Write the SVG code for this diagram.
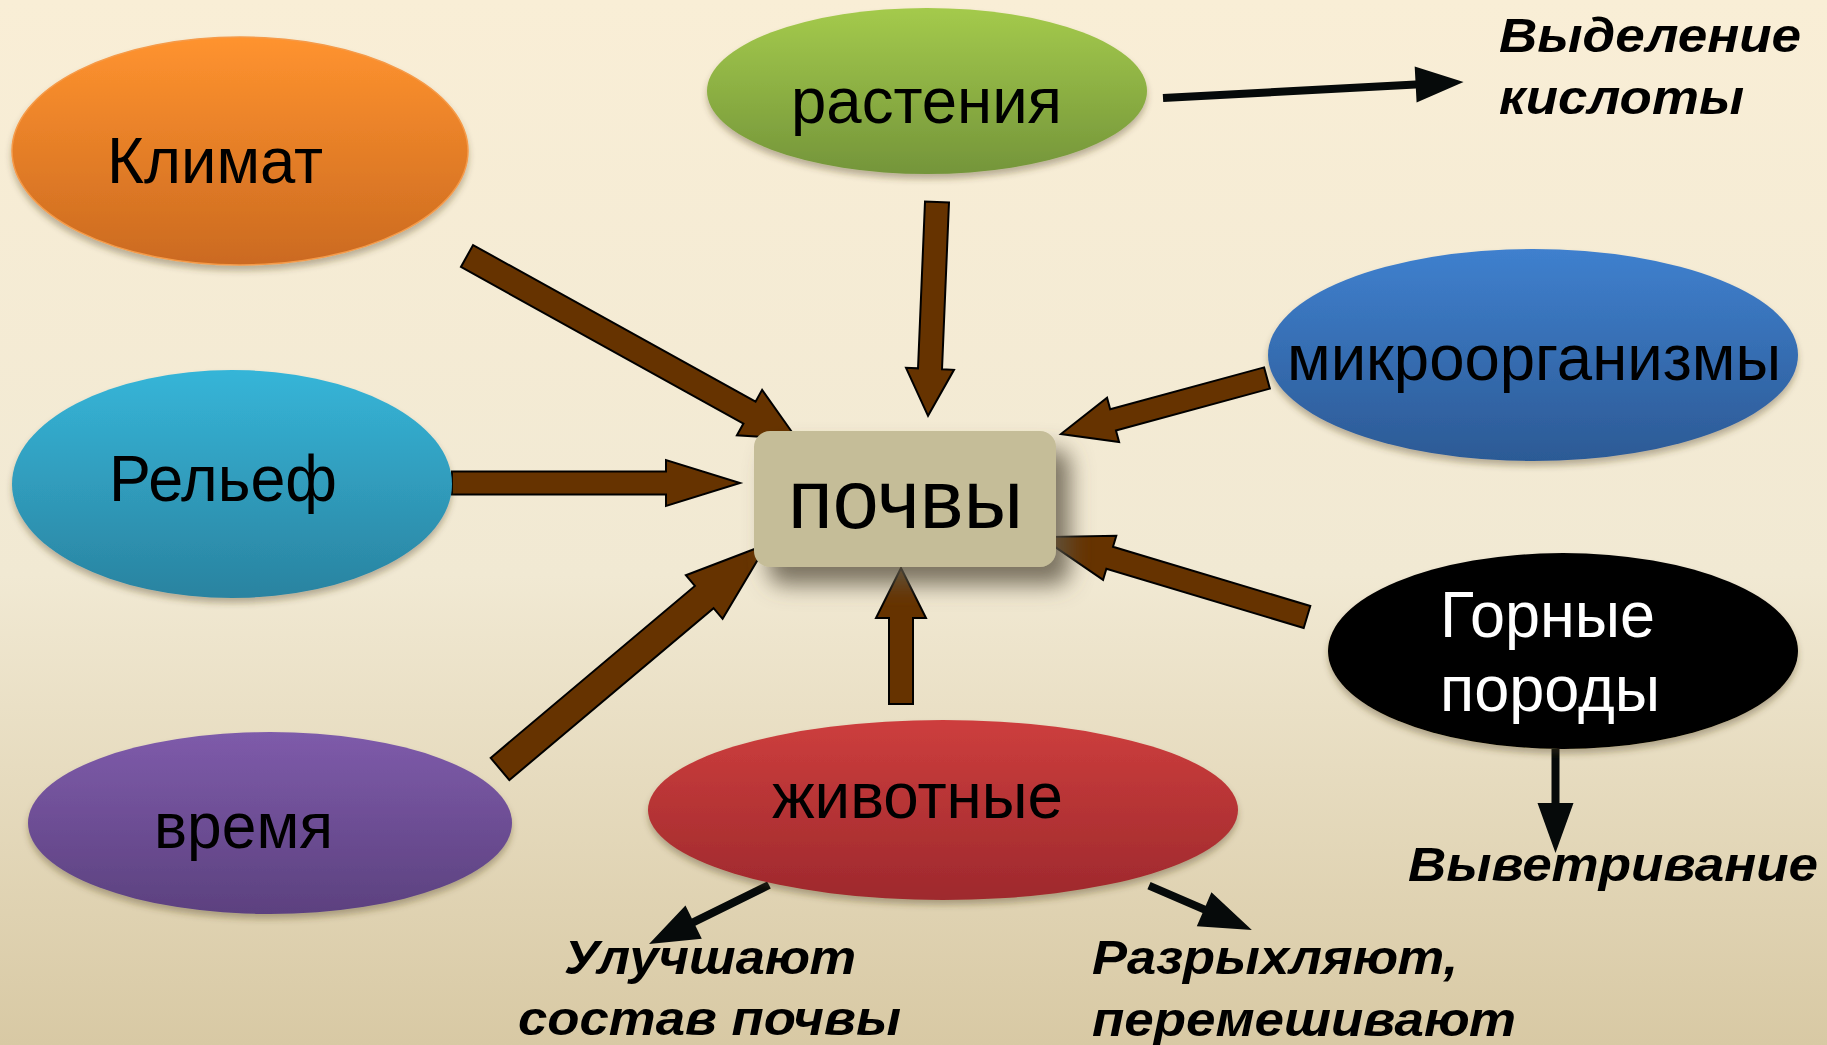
<svg xmlns="http://www.w3.org/2000/svg" width="1827" height="1045" viewBox="0 0 1827 1045">
<defs>
<linearGradient id="bg" x1="0" y1="0" x2="0" y2="1"><stop offset="0" stop-color="#F9EED6"/><stop offset="0.55" stop-color="#F1E9D3"/><stop offset="1" stop-color="#D8C9A4"/></linearGradient>
<linearGradient id="gOrange" x1="0" y1="0" x2="0" y2="1"><stop offset="0" stop-color="#FF932F"/><stop offset="1" stop-color="#CB6A20"/></linearGradient>
<linearGradient id="gCyan" x1="0" y1="0" x2="0" y2="1"><stop offset="0" stop-color="#36B5D8"/><stop offset="1" stop-color="#2A83A0"/></linearGradient>
<linearGradient id="gPurple" x1="0" y1="0" x2="0" y2="1"><stop offset="0" stop-color="#7E5BAA"/><stop offset="1" stop-color="#5C417F"/></linearGradient>
<linearGradient id="gGreen" x1="0" y1="0" x2="0" y2="1"><stop offset="0" stop-color="#A4CA4C"/><stop offset="1" stop-color="#74953A"/></linearGradient>
<linearGradient id="gBlue" x1="0" y1="0" x2="0" y2="1"><stop offset="0" stop-color="#3F80CE"/><stop offset="1" stop-color="#2C5A95"/></linearGradient>
<linearGradient id="gRed" x1="0" y1="0" x2="0" y2="1"><stop offset="0" stop-color="#CD3E3D"/><stop offset="1" stop-color="#9E292D"/></linearGradient>
<filter id="sh" x="-10%" y="-10%" width="120%" height="130%"><feDropShadow dx="0" dy="5" stdDeviation="3" flood-color="#4a3c20" flood-opacity="0.35"/></filter>
<filter id="boxsh" x="-20%" y="-30%" width="160%" height="200%"><feDropShadow dx="14" dy="18" stdDeviation="11" flood-color="#5e5644" flood-opacity="0.8"/></filter>
<style>
.lbl{font-family:"Liberation Sans",Arial,sans-serif;font-size:64px;fill:#000}
.wh{fill:#fff}
.it{font-family:"Liberation Sans",Arial,sans-serif;font-size:48px;font-weight:bold;font-style:italic;fill:#000}
.ba{fill:#663300;stroke:#000;stroke-width:2;stroke-linejoin:miter}
.ka{fill:#060A0A;stroke:none}
</style>
</defs>
<rect x="0" y="0" width="1827" height="1045" fill="url(#bg)"/>

<g id="connectors">
<polygon class="ba" transform="translate(467,256) rotate(29)" points="0,-12.5 323,-12.5 323,-26 377,0 323,26 323,12.5 0,12.5"/>
<polygon class="ba" transform="translate(452,483)" points="0,-11.5 214,-11.5 214,-23 288,0 214,23 214,11.5 0,11.5"/>
<polygon class="ba" transform="translate(500,769) rotate(-40.1)" points="0,-14.5 267,-14.5 267,-28.5 349,0 267,28.5 267,14.5 0,14.5"/>
<polygon class="ba" transform="translate(937,202) rotate(92.4)" points="0,-12 167,-12 167,-24 214,0 167,24 167,12 0,12"/>
<polygon class="ba" transform="translate(1267,378) rotate(164.8)" points="0,-11 159.5,-11 159.5,-23 213.5,0 159.5,23 159.5,11 0,11"/>
<polygon class="ba" transform="translate(1307,617) rotate(-163.3)" points="0,-11.5 206,-11.5 206,-23 278,0 206,23 206,11.5 0,11.5"/>
<polygon class="ba" transform="translate(901,704) rotate(-90)" points="0,-12 86,-12 86,-25 136,0 86,25 86,12 0,12"/>
<polygon class="ka" transform="translate(1163,98) rotate(-3.05)" points="0,-4 253,-4 253,-18 301,0 253,18 253,4 0,4"/>
<polygon class="ka" transform="translate(1555.5,749) rotate(90)" points="0,-4 54,-4 54,-18 104,0 54,18 54,4 0,4"/>
<polygon class="ka" transform="translate(769,885) rotate(153.8)" points="0,-4 84,-4 84,-18.5 133.7,0 84,18.5 84,4 0,4"/>
<polygon class="ka" transform="translate(1149,885.6) rotate(23.3)" points="0,-4 60,-4 60,-18.5 112,0 60,18.5 60,4 0,4"/>
</g>

<g id="soil">
<rect x="754" y="431" width="302" height="136" rx="16" fill="#C5BD98" filter="url(#boxsh)"/>
<text class="lbl" x="788" y="528" style="font-size:84px" textLength="235" lengthAdjust="spacingAndGlyphs">почвы</text>
</g>

<g id="climate">
<ellipse cx="240" cy="151" rx="228" ry="114" fill="url(#gOrange)" stroke="#F59A48" stroke-width="1.5" filter="url(#sh)"/>
<text class="lbl" x="107" y="183" textLength="216" lengthAdjust="spacingAndGlyphs">Климат</text>
</g>

<g id="relief">
<ellipse cx="232" cy="484" rx="220" ry="114" fill="url(#gCyan)" filter="url(#sh)"/>
<text class="lbl" x="109" y="501" textLength="228" lengthAdjust="spacingAndGlyphs">Рельеф</text>
</g>

<g id="time">
<ellipse cx="270" cy="823" rx="242" ry="91" fill="url(#gPurple)" filter="url(#sh)"/>
<text class="lbl" x="154" y="848" textLength="179" lengthAdjust="spacingAndGlyphs">время</text>
</g>

<g id="plants">
<ellipse cx="927" cy="91" rx="220" ry="83" fill="url(#gGreen)" filter="url(#sh)"/>
<text class="lbl" x="791" y="123" textLength="271" lengthAdjust="spacingAndGlyphs">растения</text>
</g>

<g id="microorganisms">
<ellipse cx="1533" cy="355" rx="265" ry="106" fill="url(#gBlue)" filter="url(#sh)"/>
<text class="lbl" x="1287" y="380" textLength="494" lengthAdjust="spacingAndGlyphs">микроорганизмы</text>
</g>

<g id="rocks">
<ellipse cx="1563" cy="651" rx="235" ry="98" fill="#000" filter="url(#sh)"/>
<text class="lbl wh" x="1440" y="637" textLength="215" lengthAdjust="spacingAndGlyphs">Горные</text>
<text class="lbl wh" x="1440" y="711" textLength="220" lengthAdjust="spacingAndGlyphs">породы</text>
</g>

<g id="animals">
<ellipse cx="943" cy="810" rx="295" ry="90" fill="url(#gRed)" filter="url(#sh)"/>
<text class="lbl" x="772" y="818" textLength="291" lengthAdjust="spacingAndGlyphs">животные</text>
</g>

<g id="acid">
<text class="it" x="1499" y="52" textLength="302" lengthAdjust="spacingAndGlyphs">Выделение</text>
<text class="it" x="1499" y="114" textLength="245" lengthAdjust="spacingAndGlyphs">кислоты</text>
</g>

<g id="weathering">
<text class="it" x="1408" y="881" textLength="410" lengthAdjust="spacingAndGlyphs">Выветривание</text>
</g>

<g id="improve">
<text class="it" x="564" y="974" textLength="292" lengthAdjust="spacingAndGlyphs">Улучшают</text>
<text class="it" x="518" y="1035" textLength="383" lengthAdjust="spacingAndGlyphs">состав почвы</text>
</g>

<g id="loosen">
<text class="it" x="1092" y="974" textLength="366" lengthAdjust="spacingAndGlyphs">Разрыхляют,</text>
<text class="it" x="1092" y="1036" textLength="424" lengthAdjust="spacingAndGlyphs">перемешивают</text>
</g>
</svg>
